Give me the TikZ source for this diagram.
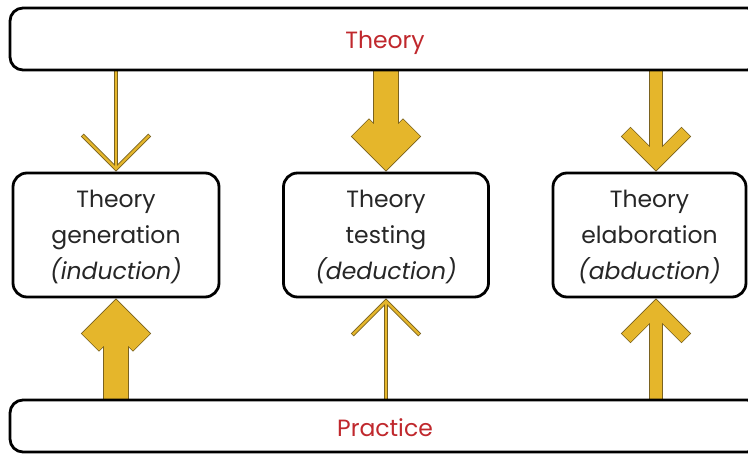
\documentclass[tikz,border=0pt]{standalone}
\usepackage{fontspec}
\setmainfont{Poppins}
\usetikzlibrary{calc}
\usetikzlibrary{backgrounds}

\definecolor{gold}{HTML}{E5B62B}
\definecolor{goldedge}{HTML}{7A6220}
\definecolor{labelred}{HTML}{C0282D}
\definecolor{boxtext}{HTML}{262626}

\tikzset{
  bar/.style={draw=black, line width=2.8pt, rounded corners=13pt, fill=white,
    minimum width=750pt, text=labelred, text depth=0pt, font=\fontsize{23.5}{28}\selectfont},
  modebox/.style={draw=black, line width=2.8pt, rounded corners=14pt, fill=white,
    minimum height=124pt, align=center, inner sep=0pt, text=boxtext, text depth=0pt,
    font=\fontsize{23.5}{36}\selectfont},
}

% #1 始点, #2 先端, #3 太さ(pt)
\newcommand{\flowarrow}[3]{%
  \coordinate (fv) at ($(#2)!{0.7071*#3pt}!(#1)$); %折れ点
  \coordinate (fl) at ($(fv)!{48.08pt-0.5*#3pt}!45:(#1)$); %左の羽
  \coordinate (fr) at ($(fv)!{48.08pt-0.5*#3pt}!-45:(#1)$); %右の羽
  \draw[goldedge, line width=#3pt+1.6pt] (#1) -- (fv);
  \draw[goldedge, line width=#3pt+1.6pt, line join=miter, shorten <=-0.8pt, shorten >=-0.8pt] (fl) -- (fv) -- (fr);
  \draw[gold, line width=#3pt] (#1) -- (fv);
  \draw[gold, line width=#3pt, line join=miter] (fl) -- (fv) -- (fr);
}

\begin{document}
\begin{tikzpicture}[x=1pt, y=-1pt]

  \useasboundingbox (0,0) rectangle (748,454);
  \clip (0,0) rectangle (748,454);

  \node[bar, minimum height=62pt, text height=19pt] (theory) at (385,39) {Theory}; %上の帯
  \node[bar, minimum height=52pt, text height=21pt] (practice) at (385,426) {Practice}; %下の帯

  \node[modebox, minimum width=206pt] (gen) at (116,235) {Theory\\generation\\\textit{(induction)}};
  \node[modebox, minimum width=205pt] (test) at (386,235) {Theory\\testing\\\textit{(deduction)}};
  \node[modebox, minimum width=193pt] (elab) at (649.5,235) {Theory\\elaboration\\\textit{(abduction)}};

  \coordinate (ex) at ([xshift=6.5pt]elab.north); %右の矢印の位置
  \coordinate (ey) at ([xshift=6.5pt]elab.south);

  \begin{scope}[on background layer]
    % Theory -> 各ボックス
    \flowarrow{gen |- theory.south}{[yshift=1.2pt]gen.north}{2.4}
    \flowarrow{test |- theory.south}{[yshift=1.2pt]test.north}{24}
    \flowarrow{ex |- theory.south}{[yshift=1.2pt]ex}{12}
    % Practice -> 各ボックス
    \flowarrow{gen |- practice.north}{[yshift=-1.2pt]gen.south}{24}
    \flowarrow{test |- practice.north}{[yshift=-1.2pt]test.south}{2.4}
    \flowarrow{ey |- practice.north}{[yshift=-1.2pt]ey}{12}
  \end{scope}

\end{tikzpicture}
\end{document}
